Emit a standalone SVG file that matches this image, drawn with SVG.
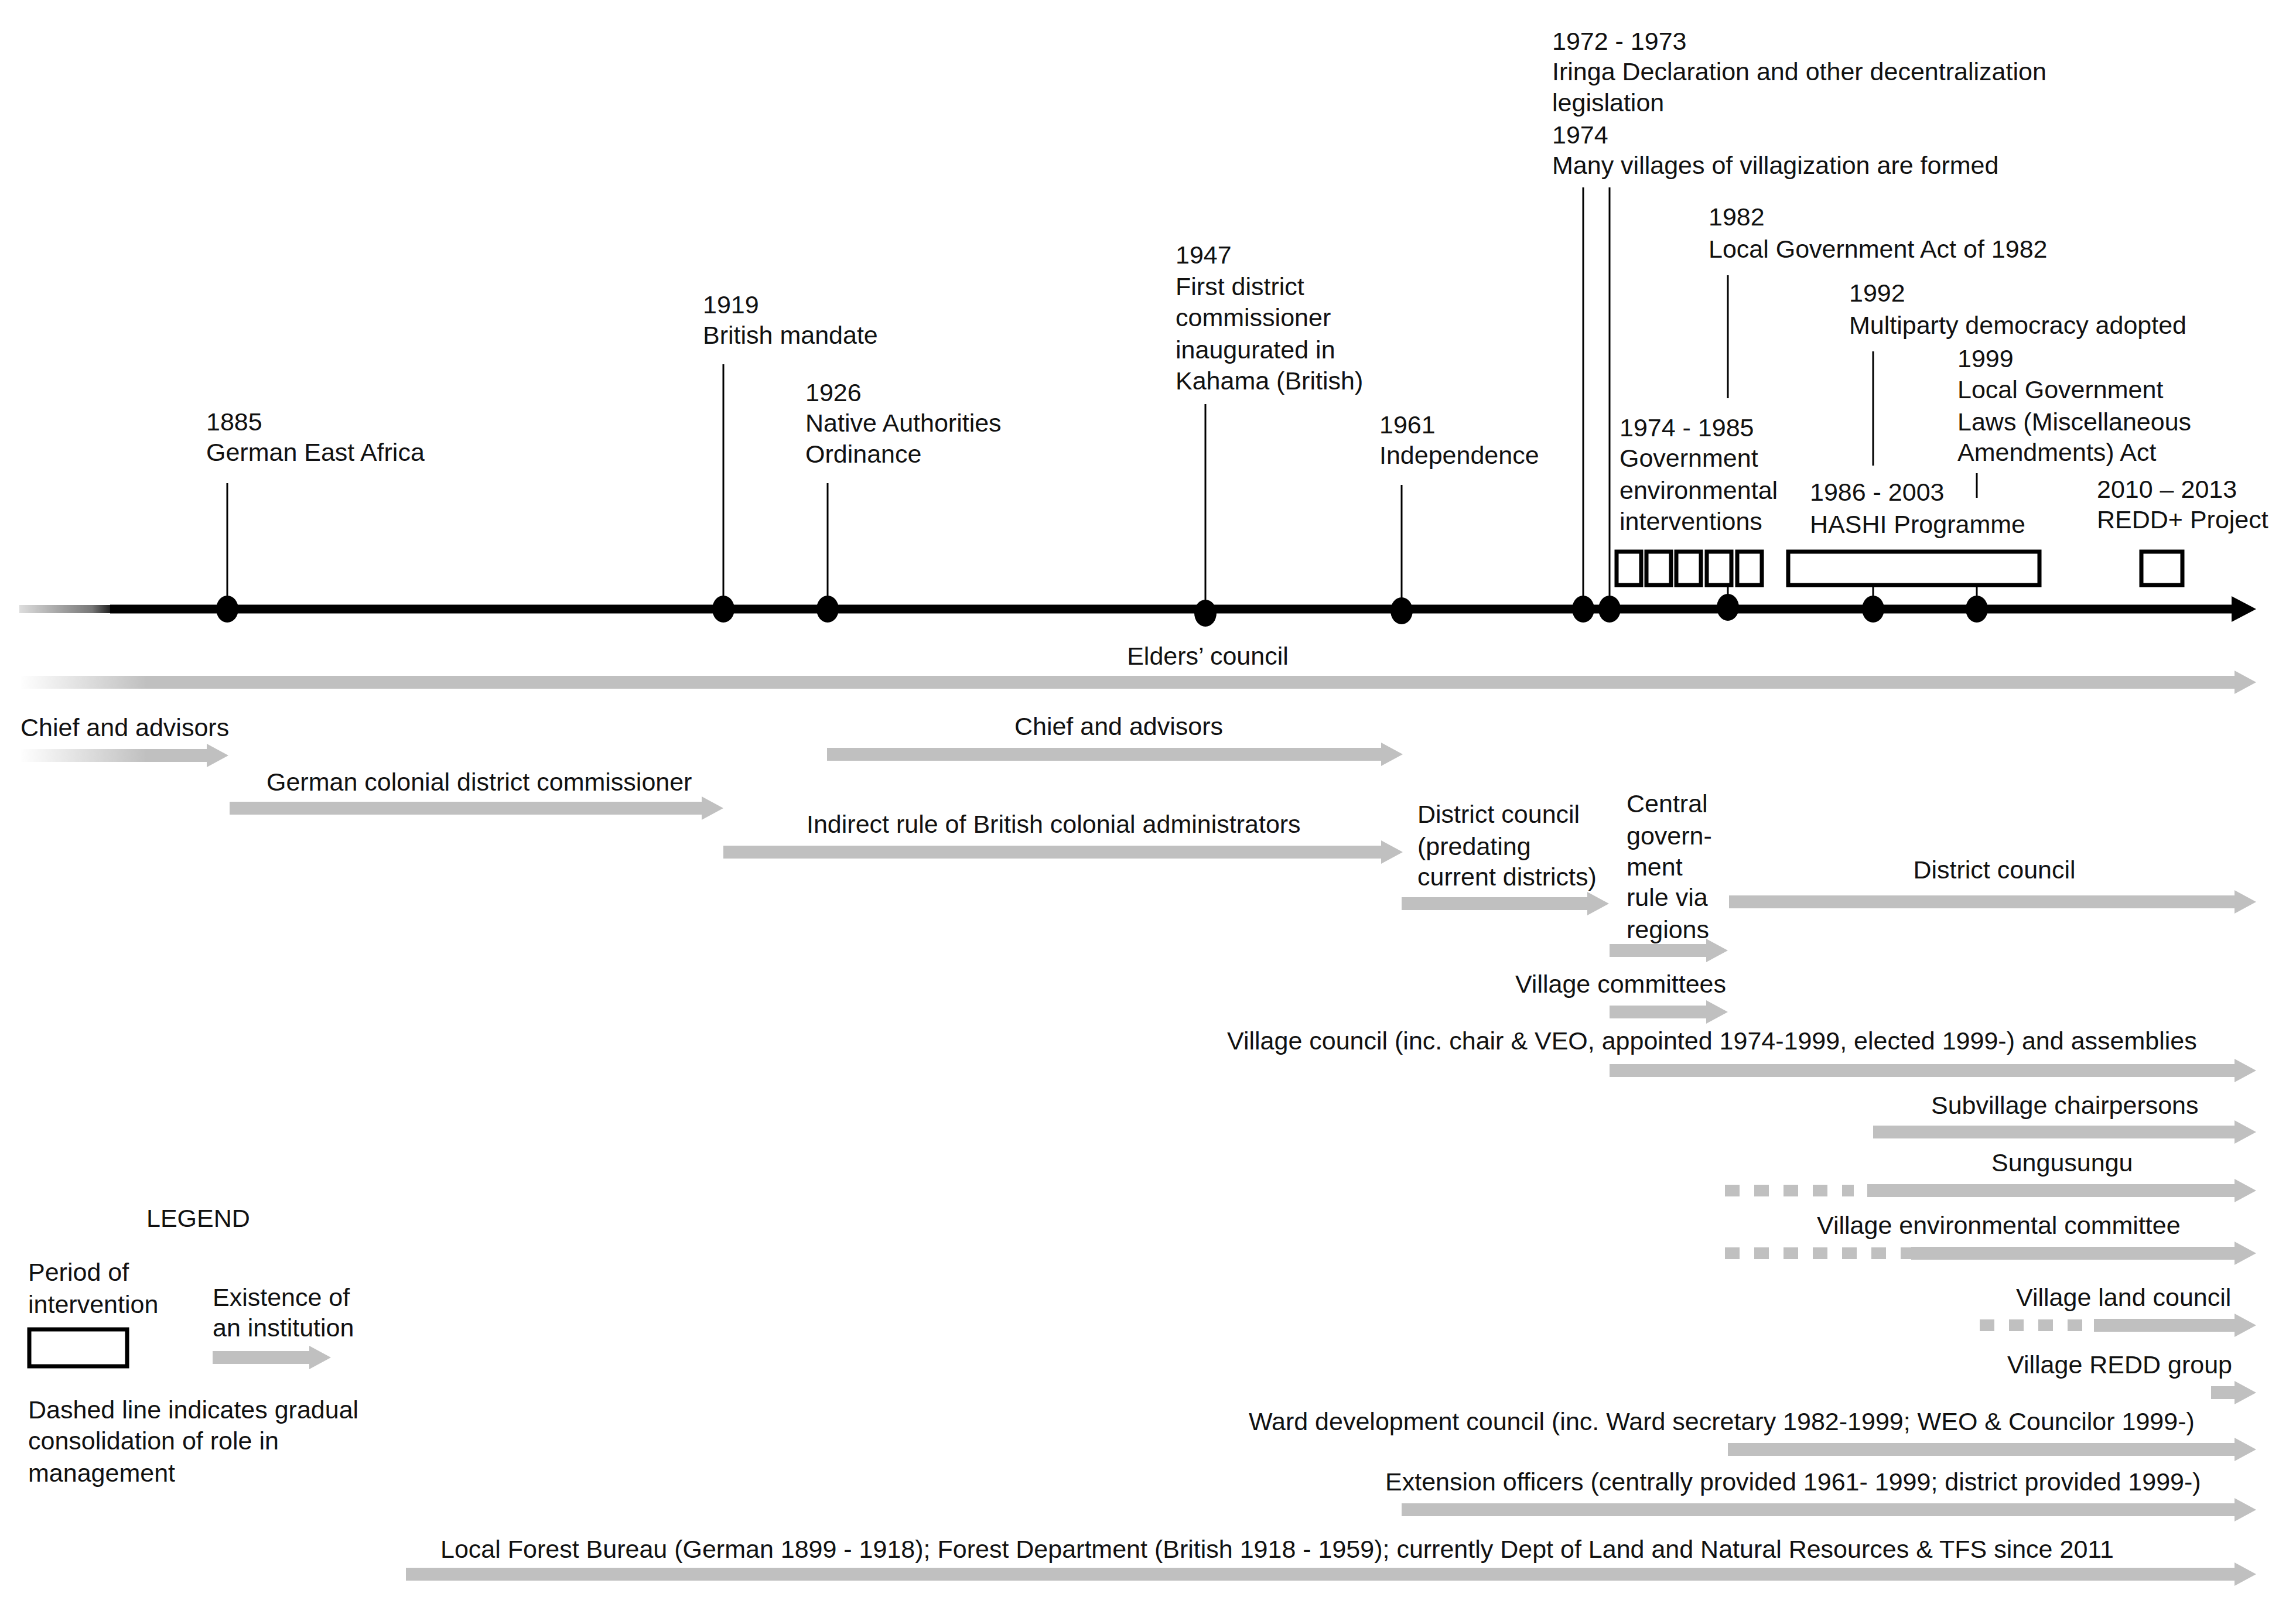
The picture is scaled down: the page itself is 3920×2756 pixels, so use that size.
<svg xmlns="http://www.w3.org/2000/svg" width="3920" height="2756" viewBox="0 0 3920 2756">
<style>
text{font-family:"Liberation Sans",Arial,sans-serif;font-size:43px;fill:#111}
.m{text-anchor:middle}
.tick{stroke:#000;stroke-width:3}
.dot{fill:#000}
.box{fill:#fff;stroke:#000;stroke-width:7}
.arr{fill:#c0c0c0}
.dash{stroke:#c0c0c0;stroke-width:20;stroke-dasharray:25 25;fill:none}
</style>
<defs>
<linearGradient id="fade" gradientUnits="userSpaceOnUse" x1="33" y1="0" x2="250" y2="0">
<stop offset="0" stop-color="#fff"/><stop offset="1" stop-color="#c0c0c0"/>
</linearGradient>
<linearGradient id="fadeK" gradientUnits="userSpaceOnUse" x1="33" y1="0" x2="188" y2="0">
<stop offset="0" stop-color="#ddd"/><stop offset="0.8" stop-color="#777"/><stop offset="1" stop-color="#222"/>
</linearGradient>
</defs>
<g id="timeline">
<rect x="33" y="1033" width="157" height="14" fill="url(#fadeK)"/>
<line x1="188" y1="1040" x2="3815" y2="1040" stroke="#000" stroke-width="15"/>
<polygon points="3810,1018 3852,1040 3810,1062" fill="#000"/>
</g>
<g id="ticks">
<line class="tick" x1="388" y1="825" x2="388" y2="1040"/>
<line class="tick" x1="1235" y1="622" x2="1235" y2="1040"/>
<line class="tick" x1="1413" y1="825" x2="1413" y2="1040"/>
<line class="tick" x1="2058" y1="690" x2="2058" y2="1045"/>
<line class="tick" x1="2393" y1="828" x2="2393" y2="1040"/>
<line class="tick" x1="2703" y1="320" x2="2703" y2="1040"/>
<line class="tick" x1="2748" y1="320" x2="2748" y2="1040"/>
<line class="tick" x1="2950" y1="470" x2="2950" y2="680"/>
<line class="tick" x1="2950" y1="1000" x2="2950" y2="1040"/>
<line class="tick" x1="3198" y1="600" x2="3198" y2="795"/>
<line class="tick" x1="3198" y1="1000" x2="3198" y2="1040"/>
<line class="tick" x1="3375" y1="808" x2="3375" y2="850"/>
<line class="tick" x1="3375" y1="1000" x2="3375" y2="1040"/>
</g>
<g id="dots">
<ellipse class="dot" cx="388" cy="1040" rx="19" ry="23"/>
<ellipse class="dot" cx="1235" cy="1040" rx="19" ry="23"/>
<ellipse class="dot" cx="1413" cy="1040" rx="19" ry="23"/>
<ellipse class="dot" cx="2058" cy="1047" rx="19" ry="23"/>
<ellipse class="dot" cx="2393" cy="1043" rx="19" ry="23"/>
<ellipse class="dot" cx="2703" cy="1040" rx="19" ry="23"/>
<ellipse class="dot" cx="2748" cy="1040" rx="19" ry="23"/>
<ellipse class="dot" cx="2950" cy="1037" rx="19" ry="23"/>
<ellipse class="dot" cx="3198" cy="1040" rx="19" ry="23"/>
<ellipse class="dot" cx="3375" cy="1040" rx="19" ry="23"/>
</g>
<g id="boxes">
<rect class="box" x="2760" y="942" width="42" height="57"/>
<rect class="box" x="2811" y="942" width="42" height="57"/>
<rect class="box" x="2862" y="942" width="42" height="57"/>
<rect class="box" x="2914" y="942" width="42" height="57"/>
<rect class="box" x="2966" y="942" width="42" height="57"/>
<rect class="box" x="3053" y="942" width="429" height="57"/>
<rect class="box" x="3656" y="942" width="70" height="57"/>
</g>
<g id="events">
<text x="352" y="735">1885</text><text x="352" y="787">German East Africa</text>
<text x="1200" y="535">1919</text><text x="1200" y="587">British mandate</text>
<text x="1375" y="685">1926</text><text x="1375" y="737">Native Authorities</text><text x="1375" y="790">Ordinance</text>
<text x="2007" y="450">1947</text><text x="2007" y="504">First district</text><text x="2007" y="557">commissioner</text><text x="2007" y="612">inaugurated in</text><text x="2007" y="665">Kahama (British)</text>
<text x="2355" y="740">1961</text><text x="2355" y="792">Independence</text>
<text x="2650" y="85">1972 - 1973</text><text x="2650" y="137">Iringa Declaration and other decentralization</text><text x="2650" y="190">legislation</text><text x="2650" y="245">1974</text><text x="2650" y="297">Many villages of villagization are formed</text>
<text x="2917" y="385">1982</text><text x="2917" y="440">Local Government Act of 1982</text>
<text x="3157" y="515">1992</text><text x="3157" y="570">Multiparty democracy adopted</text>
<text x="3342" y="627">1999</text><text x="3342" y="680">Local Government</text><text x="3342" y="735">Laws (Miscellaneous</text><text x="3342" y="787">Amendments) Act</text>
<text x="2765" y="745">1974 - 1985</text><text x="2765" y="797">Government</text><text x="2765" y="852">environmental</text><text x="2765" y="905">interventions</text>
<text x="3090" y="855">1986 - 2003</text><text x="3090" y="910">HASHI Programme</text>
<text x="3580" y="850">2010 – 2013</text><text x="3580" y="902">REDD+ Project</text>
</g>
<g id="connectors">
<polygon fill="url(#fade)" points="33,1154 3815,1154 3815,1145 3852,1165 3815,1185 3815,1176 33,1176"/>
<polygon fill="url(#fade)" points="33,1279 353,1279 353,1270 390,1290 353,1310 353,1301 33,1301"/>
<polygon class="arr" points="392,1369 1198,1369 1198,1360 1235,1380 1198,1400 1198,1391 392,1391"/>
<polygon class="arr" points="1412,1277 2358,1277 2358,1268 2395,1288 2358,1308 2358,1299 1412,1299"/>
<polygon class="arr" points="1235,1444 2358,1444 2358,1435 2395,1455 2358,1475 2358,1466 1235,1466"/>
<polygon class="arr" points="2393,1532 2710,1532 2710,1523 2747,1543 2710,1563 2710,1554 2393,1554"/>
<polygon class="arr" points="2748,1612 2913,1612 2913,1603 2950,1623 2913,1643 2913,1634 2748,1634"/>
<polygon class="arr" points="2952,1529 3815,1529 3815,1520 3852,1540 3815,1560 3815,1551 2952,1551"/>
<polygon class="arr" points="2748,1717 2913,1717 2913,1708 2950,1728 2913,1748 2913,1739 2748,1739"/>
<polygon class="arr" points="2748,1817 3815,1817 3815,1808 3852,1828 3815,1848 3815,1839 2748,1839"/>
<polygon class="arr" points="3198,1922 3815,1922 3815,1913 3852,1933 3815,1953 3815,1944 3198,1944"/>
<line class="dash" x1="2945" y1="2033" x2="3165" y2="2033"/>
<polygon class="arr" points="3188,2022 3815,2022 3815,2013 3852,2033 3815,2053 3815,2044 3188,2044"/>
<line class="dash" x1="2945" y1="2140" x2="3345" y2="2140"/>
<polygon class="arr" points="3263,2129 3815,2129 3815,2120 3852,2140 3815,2160 3815,2151 3263,2151"/>
<line class="dash" x1="3380" y1="2263" x2="3555" y2="2263"/>
<polygon class="arr" points="3575,2252 3815,2252 3815,2243 3852,2263 3815,2283 3815,2274 3575,2274"/>
<polygon class="arr" points="3775,2367 3815,2367 3815,2358 3852,2378 3815,2398 3815,2389 3775,2389"/>
<polygon class="arr" points="2950,2464 3815,2464 3815,2455 3852,2475 3815,2495 3815,2486 2950,2486"/>
<polygon class="arr" points="2393,2567 3815,2567 3815,2558 3852,2578 3815,2598 3815,2589 2393,2589"/>
<polygon class="arr" points="693,2677 3815,2677 3815,2668 3852,2688 3815,2708 3815,2699 693,2699"/>
</g>
<g id="labels">
<text class="m" x="2062" y="1135">Elders’ council</text>
<text x="35" y="1257">Chief and advisors</text>
<text x="455" y="1350">German colonial district commissioner</text>
<text class="m" x="1910" y="1255">Chief and advisors</text>
<text x="1377" y="1422">Indirect rule of British colonial administrators</text>
<text x="2420" y="1405">District council</text><text x="2420" y="1460">(predating</text><text x="2420" y="1512">current districts)</text>
<text x="2777" y="1387">Central</text><text x="2777" y="1442">govern-</text><text x="2777" y="1495">ment</text><text x="2777" y="1547">rule via</text><text x="2777" y="1602">regions</text>
<text class="m" x="3405" y="1500">District council</text>
<text class="m" x="2767" y="1695">Village committees</text>
<text x="2095" y="1792">Village council (inc. chair &amp; VEO, appointed 1974-1999, elected 1999-) and assemblies</text>
<text x="3297" y="1902">Subvillage chairpersons</text>
<text x="3400" y="2000">Sungusungu</text>
<text x="3102" y="2107">Village environmental committee</text>
<text x="3442" y="2230">Village land council</text>
<text x="3427" y="2345">Village REDD group</text>
<text x="2132" y="2442">Ward development council (inc. Ward secretary 1982-1999; WEO &amp; Councilor 1999-)</text>
<text x="2365" y="2545">Extension officers (centrally provided 1961- 1999; district provided 1999-)</text>
<text x="752" y="2660">Local Forest Bureau (German 1899 - 1918); Forest Department (British 1918 - 1959); currently Dept of Land and Natural Resources &amp; TFS since 2011</text>
</g>
<g id="legend">
<text x="250" y="2095">LEGEND</text>
<text x="48" y="2187">Period of</text><text x="48" y="2242">intervention</text>
<rect class="box" x="50" y="2270" width="167" height="63"/>
<text x="363" y="2230">Existence of</text><text x="363" y="2282">an institution</text>
<polygon class="arr" points="363,2307 528,2307 528,2298 565,2318 528,2338 528,2329 363,2329"/>
<text x="48" y="2422">Dashed line indicates gradual</text><text x="48" y="2475">consolidation of role in</text><text x="48" y="2530">management</text>
</g>
</svg>
